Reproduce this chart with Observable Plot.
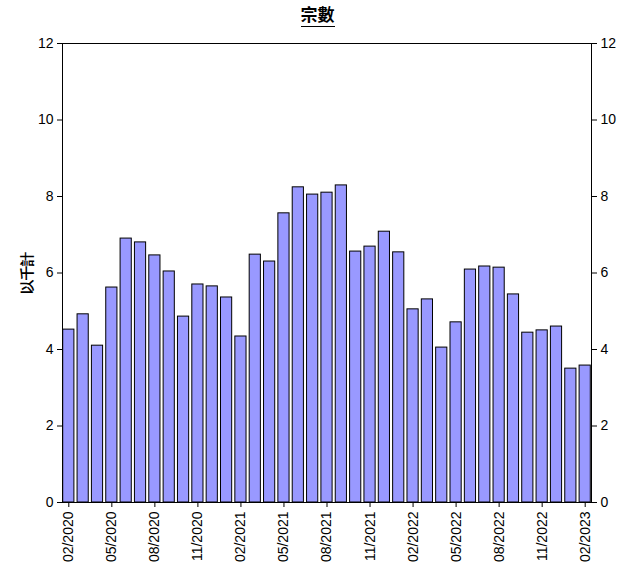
<!DOCTYPE html>
<html><head><meta charset="utf-8">
<script src="https://cdn.jsdelivr.net/npm/d3@7"></script>
<script src="https://cdn.jsdelivr.net/npm/@observablehq/plot@0.6"></script>
<style>
body{margin:0;background:#fff;font-family:Arial,"Liberation Sans","Noto Sans CJK TC",sans-serif}
#title{height:30px;padding-top:6px;box-sizing:border-box;text-align:center;font-weight:bold;font-size:17px;width:635px}
#title span{border-bottom:1.5px solid black;line-height:20px;display:inline-block}
</style></head><body>
<div id="title"><span>宗數</span></div>
<div id="chart"></div>
<script>
const months = ["02/2020","03/2020","04/2020","05/2020","06/2020","07/2020","08/2020","09/2020","10/2020","11/2020","12/2020",
"01/2021","02/2021","03/2021","04/2021","05/2021","06/2021","07/2021","08/2021","09/2021","10/2021","11/2021","12/2021",
"01/2022","02/2022","03/2022","04/2022","05/2022","06/2022","07/2022","08/2022","09/2022","10/2022","11/2022","12/2022",
"01/2023","02/2023"];
const values = [4.52,4.92,4.10,5.62,6.90,6.80,6.46,6.04,4.86,5.70,5.65,
5.36,4.34,6.48,6.30,7.56,8.24,8.05,8.10,8.29,6.56,6.69,7.08,
6.54,5.05,5.31,4.05,4.71,6.09,6.17,6.14,5.44,4.44,4.50,4.60,
3.50,3.58];
const data = months.map((m, i) => ({month: m, value: values[i]}));
const shown = months.filter((m, i) => i % 3 === 0);
const yTicks = [0, 2, 4, 6, 8, 10, 12];

const chart = Plot.plot({
  width: 635, height: 544,
  marginTop: 13, marginBottom: 72, marginLeft: 62, marginRight: 44,
  style: {fontFamily: "Arial, 'Liberation Sans', sans-serif", fontSize: "14px", color: "black"},
  x: {domain: months, paddingInner: 0.22, paddingOuter: 0.05, round: false},
  y: {domain: [0, 12]},
  marks: [
    Plot.barY(data, {x: "month", y: "value", fill: "#9999ff", stroke: "black", strokeWidth: 1}),
    Plot.frame({stroke: "black"}),
    Plot.axisY({anchor: "left", ticks: yTicks, tickSize: 5, label: null, fontSize: 14}),
    Plot.axisY({anchor: "left", ticks: [], label: "以千計", labelAnchor: "center", labelArrow: "none", labelOffset: 40, fontSize: 14, fontWeight: "bold"}),
    Plot.axisY({anchor: "right", ticks: yTicks, tickSize: 5, label: null, fontSize: 14}),
    Plot.axisX({ticks: shown, tickRotate: -90, tickSize: 5, label: null, fontSize: 14})
  ]
});
document.getElementById("chart").append(chart);
</script>
</body></html>
